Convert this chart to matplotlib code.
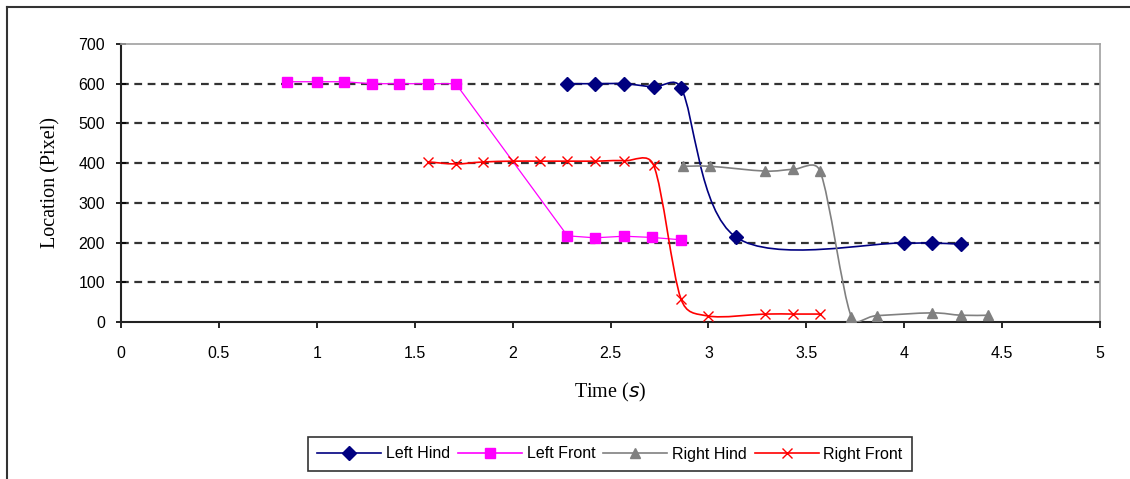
import matplotlib
matplotlib.use("Agg")
import matplotlib.pyplot as plt
import numpy as np
from matplotlib.path import Path
from matplotlib.patches import PathPatch
from matplotlib.lines import Line2D

# data (time in s, location in pixels)
left_hind_t = [2.28, 2.42, 2.57, 2.72, 2.86, 3.14, 4.00, 4.14, 4.29]
left_hind_y = [600, 600, 600, 592, 590, 214, 199, 199, 196]

left_front_t = [0.85, 1.00, 1.14, 1.28, 1.42, 1.57, 1.71, 2.28, 2.42, 2.57, 2.71, 2.86]
left_front_y = [605, 605, 605, 600, 600, 600, 600, 217, 212, 216, 213, 207]

right_hind_t = [2.87, 3.01, 3.29, 3.43, 3.57, 3.73, 3.86, 4.14, 4.29, 4.43]
right_hind_y = [392, 392, 380, 384, 380, 13, 16, 23, 17, 17]

right_front_t = [1.57, 1.71, 1.85, 2.00, 2.14, 2.28, 2.42, 2.57, 2.72, 2.86, 3.00, 3.29, 3.43, 3.57]
right_front_y = [403, 398, 403, 405, 405, 405, 405, 406, 395, 58, 15, 20, 20, 20]

x_ticks = [0, 0.5, 1, 1.5, 2, 2.5, 3, 3.5, 4, 4.5, 5]
x_tick_labels = ["0", "0.5", "1", "1.5", "2", "2.5", "3", "3.5", "4", "4.5", "5"]
y_ticks = [0, 100, 200, 300, 400, 500, 600, 700]


def smooth_path(ax, xs, ys):
    """Excel-style smoothed line: Bezier segments, control points worked
    out in screen space and capped at half the segment length."""
    pts = ax.transData.transform(np.column_stack([xs, ys]).astype(float))
    ext = np.vstack([pts[0], pts, pts[-1]])
    verts = [pts[0]]
    codes = [Path.MOVETO]
    for i in range(len(pts) - 1):
        p0, p1, p2, p3 = ext[i], ext[i + 1], ext[i + 2], ext[i + 3]
        seg = np.hypot(*(p2 - p1))
        t1, t2 = p2 - p0, p3 - p1
        f1 = min(1 / 6, seg / (2 * max(np.hypot(*t1), 1e-9)))
        f2 = min(1 / 6, seg / (2 * max(np.hypot(*t2), 1e-9)))
        verts += [p1 + t1 * f1, p2 - t2 * f2, p2]
        codes += [Path.CURVE4] * 3
    verts = ax.transData.inverted().transform(np.array(verts))
    return Path(verts, codes)


fig = plt.figure(figsize=(11.30, 4.79), dpi=100, facecolor="white")
ax = fig.add_axes([121 / 1130, 157 / 479, 979 / 1130, 278 / 479])
ax.set_xlim(0, 5)
ax.set_ylim(0, 700)

# grid lines
for y in y_ticks[1:-1]:
    ax.axhline(y, color="#333333", lw=1.6, ls=(0, (3.5, 2.5)), zorder=1)

series = [
    ("Left Hind", left_hind_t, left_hind_y, "#000080", "D", 7, True),
    ("Left Front", left_front_t, left_front_y, "#FF00FF", "s", 7.5, False),
    ("Right Hind", right_hind_t, right_hind_y, "#808080", "^", 7.5, True),
    ("Right Front", right_front_t, right_front_y, "#FF0000", "x", 7, True),
]

handles = []
for name, xs, ys, color, marker, ms, smooth in series:
    if smooth:
        ax.add_patch(PathPatch(smooth_path(ax, xs, ys), facecolor="none",
                               edgecolor=color, lw=1.2, zorder=3))
    else:
        ax.plot(xs, ys, color=color, lw=0.9, zorder=3)
    ax.plot(xs, ys, ls="none", marker=marker, ms=ms, color=color,
            mec=color, mew=1.0, zorder=4)
    handles.append(Line2D([0], [0], color=color, lw=1.2, marker=marker,
                          ms=ms, mew=1.0, label=name))

ax.set_xticks(x_ticks)
ax.set_xticklabels(x_tick_labels)
ax.set_yticks(y_ticks)

for side in ("left", "bottom"):
    ax.spines[side].set_color("#222222")
    ax.spines[side].set_linewidth(1.5)
for side in ("top", "right"):
    ax.spines[side].set_color("#A0A0A0")
    ax.spines[side].set_linewidth(1.2)

ax.tick_params(axis="y", direction="inout", length=7, width=1.2,
               labelsize=11.5, pad=8, labelfontfamily="Liberation Sans")
ax.tick_params(axis="x", direction="out", length=4, width=1.2,
               labelsize=11.5, pad=13, labelfontfamily="Liberation Sans")

ax.set_xlabel("Time ($\\it{s}$)", fontsize=14.5, family="Liberation Serif", labelpad=15)
ax.set_ylabel("Location (Pixel)", fontsize=14.5, family="Liberation Serif", labelpad=13)

leg = fig.legend(handles=handles, loc="center", bbox_to_anchor=(610 / 1130, 25 / 479),
                 ncol=4, frameon=True, fancybox=False, edgecolor="black",
                 prop={"family": "Liberation Sans", "size": 11.5},
                 handlelength=4.0, handletextpad=0.3, columnspacing=0.5,
                 borderpad=0.6)
leg.get_frame().set_linewidth(1.2)

# outer chart frame
fig.add_artist(Line2D([7 / 1130, 1.0], [1 - 7 / 479, 1 - 7 / 479],
                      transform=fig.transFigure, color="#333333", lw=1.5))
fig.add_artist(Line2D([7 / 1130, 7 / 1130], [0, 1 - 7 / 479],
                      transform=fig.transFigure, color="#333333", lw=1.5))

fig.savefig("out.png", dpi=100, facecolor="white")
